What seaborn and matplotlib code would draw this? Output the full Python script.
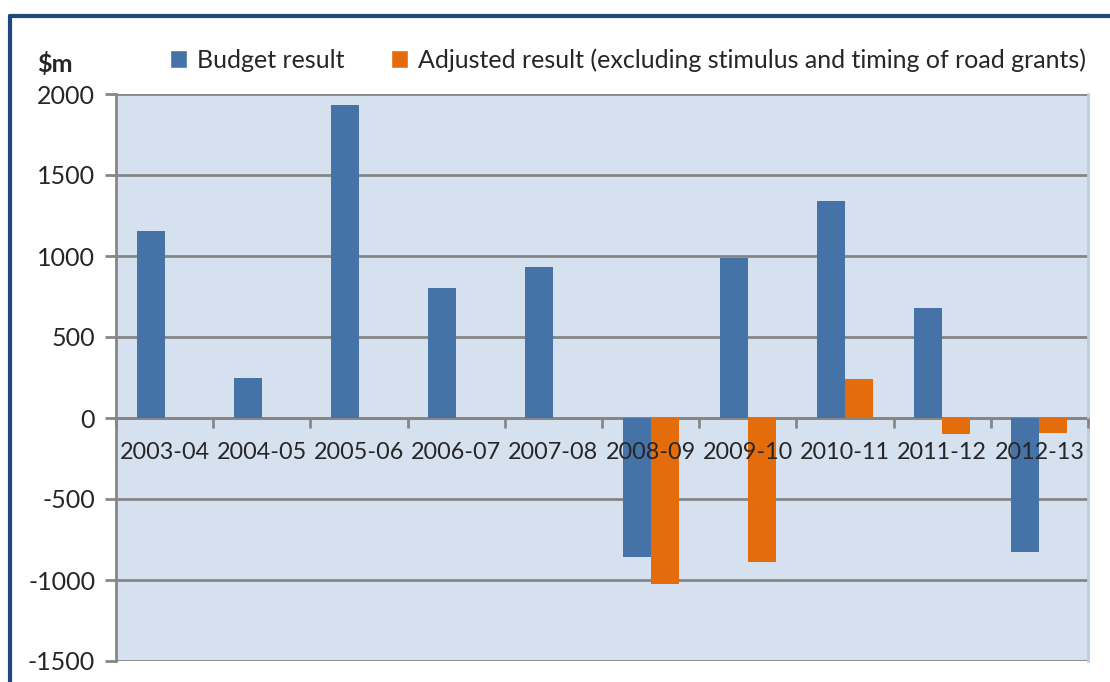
import numpy as np
import pandas as pd
import matplotlib.pyplot as plt
import seaborn as sns
from matplotlib.patches import Patch
from matplotlib.lines import Line2D

years = ["2003-04", "2004-05", "2005-06", "2006-07", "2007-08",
         "2008-09", "2009-10", "2010-11", "2011-12", "2012-13"]
budget = [1155, 245, 1930, 800, 935, -860, 990, 1340, 680, -825]
adjusted = [0, 0, 0, 0, 0, -1025, -890, 240, -100, -90]
series = ["Budget result", "Adjusted result (excluding stimulus and timing of road grants)"]
yticks = [-1500, -1000, -500, 0, 500, 1000, 1500, 2000]

df = pd.DataFrame({
    "Year": years * 2,
    "Value": budget + adjusted,
    "Series": [series[0]] * len(years) + [series[1]] * len(years),
})

sns.set_style("white")
plt.rcParams['font.family'] = ['Lato', 'DejaVu Sans']
plt.rcParams['font.size'] = 18
plt.rcParams['axes.unicode_minus'] = False

blue = "#4572a7"
orange = "#e46c0a"
grid_col = "#868686"
fs = 18

fig = plt.figure(figsize=(11.1, 6.82), dpi=100)
ax = fig.add_axes([116 / 1110, 21 / 682, 972 / 1110, 567 / 682])
ax.set_facecolor("#d6e1ef")

sns.barplot(data=df, x="Year", y="Value", hue="Series", palette=[blue, orange],
            width=0.576, gap=0, saturation=1, ax=ax, legend=False, zorder=2,
            linewidth=0)

ax.set_ylim(-1500, 2000)
ax.set_xlim(-0.5, len(years) - 0.5)
ax.set_yticks(yticks)
for t in yticks:
    ax.axhline(t, color=grid_col, lw=2, zorder=1)

ax.set_xlabel("")
ax.set_ylabel("")

ax.spines["top"].set_visible(False)
ax.spines["right"].set_color("#b9cde5")
ax.spines["right"].set_linewidth(2)
ax.spines["left"].set_color(grid_col)
ax.spines["left"].set_linewidth(2)
ax.spines["bottom"].set_position(("data", 0))
ax.spines["bottom"].set_color(grid_col)
ax.spines["bottom"].set_linewidth(2)
ax.spines["bottom"].set_zorder(1.2)

ax.tick_params(axis="y", direction="out", length=8, width=2, color=grid_col,
               labelsize=fs, pad=7, left=True)
ax.set_xticks(np.arange(len(years)))
ax.set_xticklabels(years)
ax.set_xticks(np.arange(len(years) + 1) - 0.5, minor=True)
ax.tick_params(axis="x", which="major", length=0, labelsize=16.8, pad=17)
ax.tick_params(axis="x", which="minor", direction="out", length=7, width=2,
               color=grid_col, bottom=True)
ax.xaxis.set_zorder(5)

handles = [Patch(facecolor=blue, label=series[0]),
           Patch(facecolor=orange, label=series[1])]
fig.legend(handles=handles, loc="center left", bbox_to_anchor=(147 / 1110, 1 - 60 / 682),
           ncol=2, frameon=False, fontsize=fs, handlelength=0.7, handleheight=0.7,
           handletextpad=0.4, columnspacing=1.85)

fig.text(37 / 1110, 1 - 64 / 682, "$m", fontsize=fs, fontweight="bold", va="center")

border = "#1f497d"
fig.add_artist(Line2D([10 / 1110, 1], [1 - 16 / 682, 1 - 16 / 682], color=border, lw=3))
fig.add_artist(Line2D([10 / 1110, 10 / 1110], [0, 1 - 16 / 682], color=border, lw=3))

fig.savefig("out.png", dpi=100)
